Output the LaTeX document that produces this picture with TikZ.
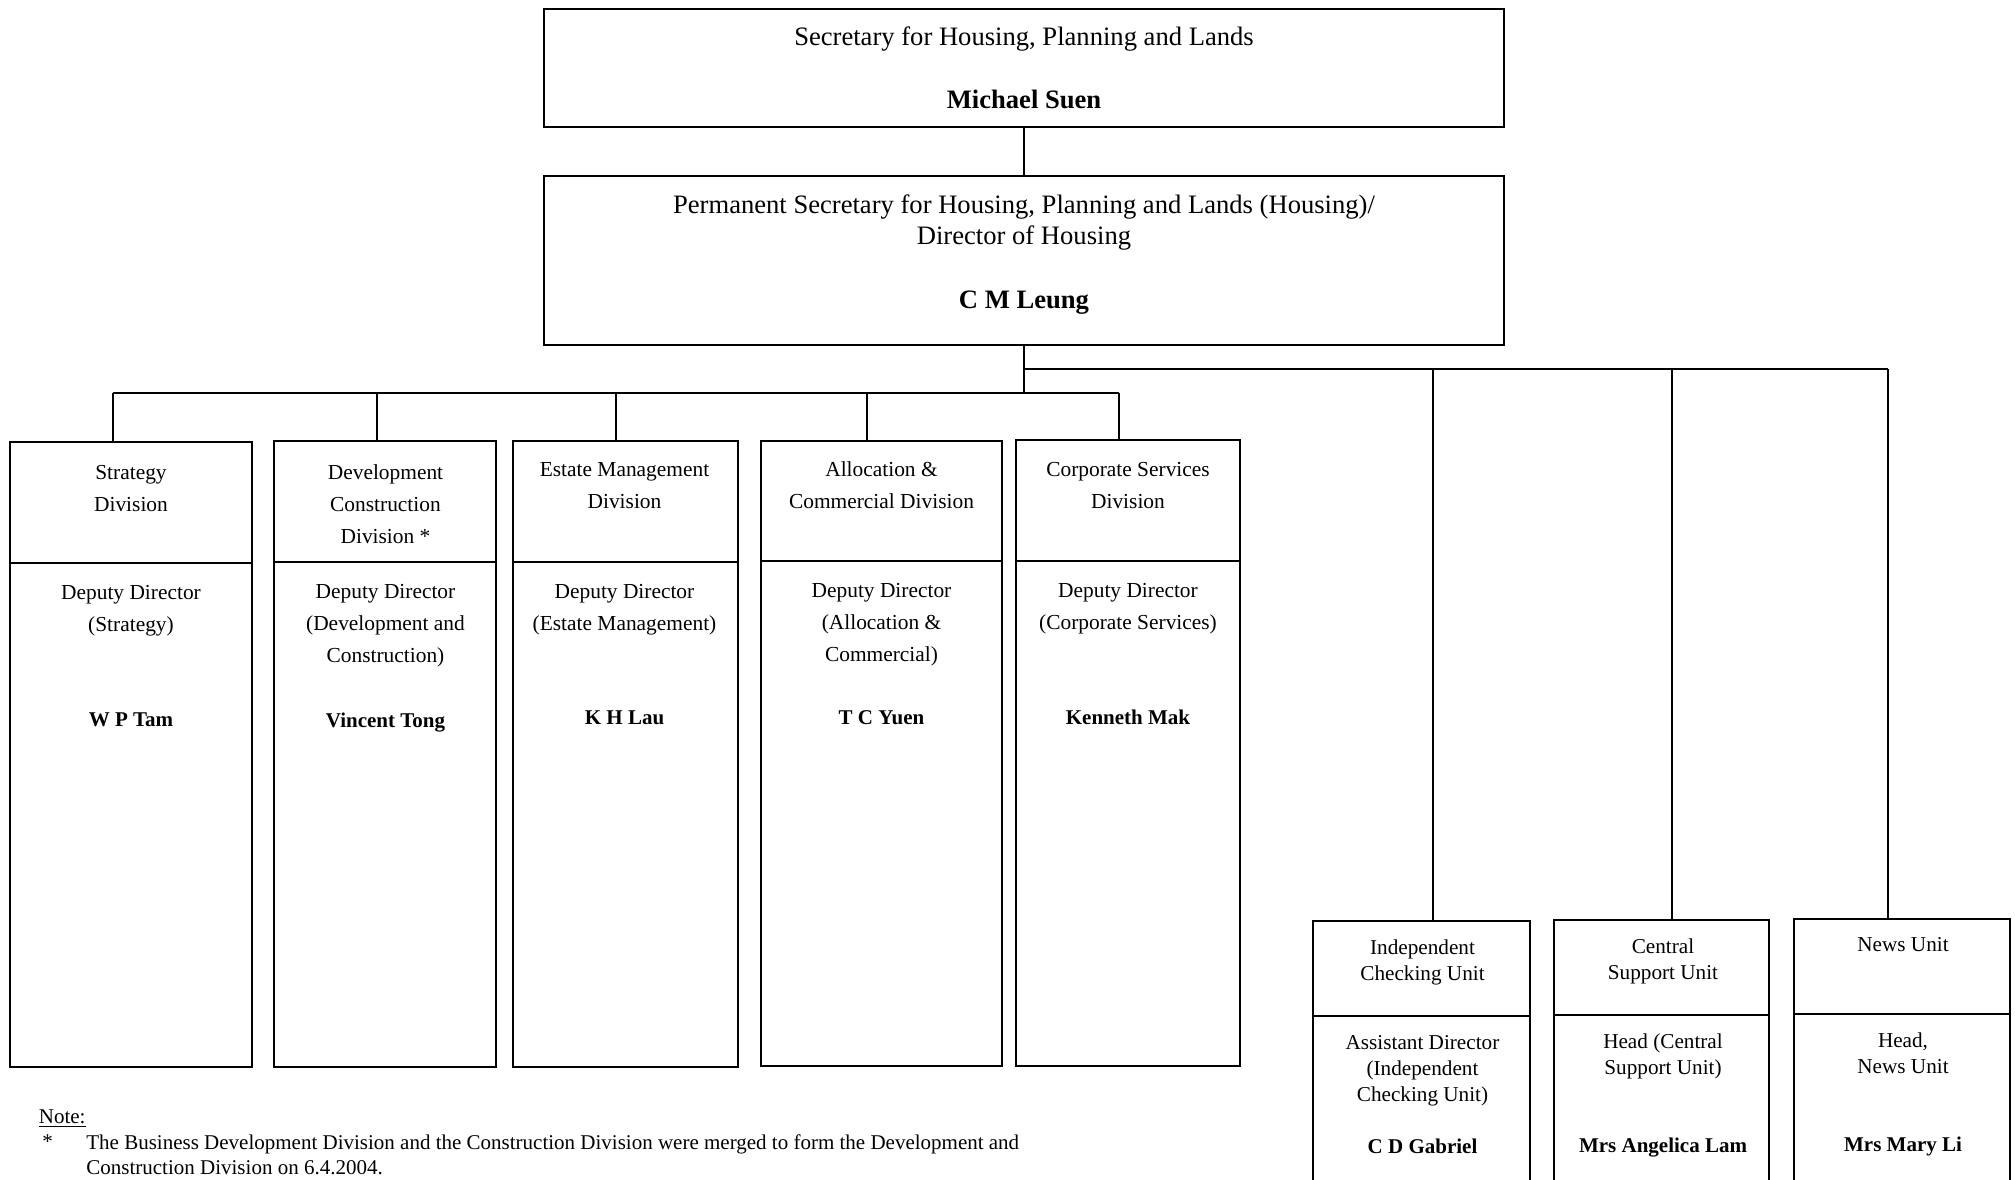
\documentclass[tikz,border=0pt]{standalone}
\usepackage{fontspec}
\setmainfont{Liberation Serif}
\usetikzlibrary{fit}
\begin{document}
\begin{tikzpicture}[x=0.5pt,y=-0.5pt,
  box/.style={draw, line width=0.65pt, rectangle, inner sep=0pt},
  link/.style={line width=0.65pt},
  ttl/.style={font=\fontsize{13.3}{15.5}\selectfont, align=center, inner sep=0pt, anchor=north},
  tnm/.style={font=\fontsize{13.3}{15.5}\selectfont\bfseries, align=center, inner sep=0pt, anchor=north},
  txt/.style={font=\fontsize{10.7}{16}\selectfont, align=center, inner sep=0pt, anchor=north},
  utxt/.style={font=\fontsize{10.6}{13}\selectfont, align=center, inner sep=0pt, anchor=north},
  nm/.style={font=\fontsize{10.5}{13}\selectfont\bfseries, align=center, inner sep=0pt, anchor=north},
  notetxt/.style={font=\fontsize{10.5}{12.4}\selectfont, align=left, inner sep=0pt, anchor=north west}]
\clip (0,0) rectangle (2015,1179);
\fill[white] (0,0) rectangle (2015,1179);

% top boxes
\node[box, fit={(544,9)(1504,127)}] (sec) {};
\node[ttl] (secT) at (1024,26) {Secretary for Housing, Planning and Lands};
\node[tnm] (secN) at (1024,90) {Michael Suen};

\node[box, fit={(544,176)(1504,345)}] (ps) {};
\node[ttl] (psT) at (1024,194) {Permanent Secretary for Housing, Planning and Lands (Housing)/\\Director of Housing};
\node[tnm] (psN) at (1024,290) {C M Leung};

\draw[link] (sec.south) -- (ps.north);

% division boxes
\node[box, fit={(10,442)(252,1067)}] (s) {};
\node[box, fit={(274,441)(496,1067)}] (d) {};
\node[box, fit={(513,441)(738,1067)}] (e) {};
\node[box, fit={(761,441)(1002,1066)}] (a) {};
\node[box, fit={(1016,440)(1240,1066)}] (c) {};
\draw[link] (10,563) -- (252,563);
\draw[link] (274,562) -- (496,562);
\draw[link] (513,562) -- (738,562);
\draw[link] (761,561) -- (1002,561);
\draw[link] (1016,561) -- (1240,561);

\node[txt] (sT) at (131,464.5) {Strategy\\Division};
\node[txt] (sD) at (131,584.5) {Deputy Director\\(Strategy)};
\node[nm]  (sN) at (131,712.6) {W P Tam};

\node[txt] (dT) at (385.5,464.5) {Development\\Construction\\Division *};
\node[txt] (dD) at (385.5,583.5) {Deputy Director\\(Development and\\Construction)};
\node[nm]  (dN) at (385.5,712.6) {Vincent Tong};

\node[txt] (eT) at (624.5,462.5) {Estate Management\\Division};
\node[txt] (eD) at (624.5,583.5) {Deputy Director\\(Estate Management)};
\node[nm]  (eN) at (624.5,710.6) {K H Lau};

\node[txt] (aT) at (881.5,461.5) {Allocation \&\\Commercial Division};
\node[txt] (aD) at (881.5,582.5) {Deputy Director\\(Allocation \&\\Commercial)};
\node[nm]  (aN) at (881.5,710.6) {T C Yuen};

\node[txt] (cT) at (1128,461.5) {Corporate Services\\Division};
\node[txt] (cD) at (1128,582.5) {Deputy Director\\(Corporate Services)};
\node[nm]  (cN) at (1128,709.6) {Kenneth Mak};

% unit boxes (run off the bottom edge)
\node[box, fit={(1313,921)(1530,1260)}] (i) {};
\node[box, fit={(1554,920)(1769,1260)}] (u) {};
\node[box, fit={(1794,919)(2010,1260)}] (n) {};
\draw[link] (1313,1016) -- (1530,1016);
\draw[link] (1554,1015) -- (1769,1015);
\draw[link] (1794,1014) -- (2010,1014);

\node[utxt] (iT) at (1422.5,939.6) {Independent\\Checking Unit};
\node[utxt] (iD) at (1422.5,1034.6) {Assistant Director\\(Independent\\Checking Unit)};
\node[nm]   (iN) at (1422.5,1138.6) {C D Gabriel};

\node[utxt] (uT) at (1663,938.6) {Central\\Support Unit};
\node[utxt] (uD) at (1663,1033.6) {Head (Central\\Support Unit)};
\node[nm]   (uN) at (1663,1137.6) {Mrs Angelica Lam};

\node[utxt] (nT) at (1903,936.6) {News Unit};
\node[utxt] (nD) at (1903,1032.6) {Head,\\News Unit};
\node[nm]   (nN) at (1903,1136.6) {Mrs Mary Li};

% connectors
\coordinate (dS) at (113,393);
\coordinate (dD2) at (377,393);
\coordinate (dE) at (616,393);
\coordinate (dA) at (867,393);
\coordinate (dC) at (1119,393);
\coordinate (rI) at (1433,369);
\coordinate (rU) at (1672,369);
\coordinate (rN) at (1888,369);

\draw[link] (ps.south) -- (ps.south |- dS);
\draw[link] (dS) -- (dC);
\draw[link] (dS) -- (dS |- s.north);
\draw[link] (dD2) -- (dD2 |- d.north);
\draw[link] (dE) -- (dE |- e.north);
\draw[link] (dA) -- (dA |- a.north);
\draw[link] (dC) -- (dC |- c.north);

\draw[link] (ps.south |- rI) -- (rN);
\draw[link] (rI) -- (rI |- i.north);
\draw[link] (rU) -- (rU |- u.north);
\draw[link] (rN) -- (rN |- n.north);

% note
\node[notetxt] (noteH) at (38.5,1109) {\underline{Note:}};
\node[notetxt] (noteS) at (42,1134) {*};
\node[notetxt] (noteT) at (86,1134) {The Business Development Division and the Construction Division were merged to form the Development and\\Construction Division on 6.4.2004.};
\end{tikzpicture}
\end{document}
